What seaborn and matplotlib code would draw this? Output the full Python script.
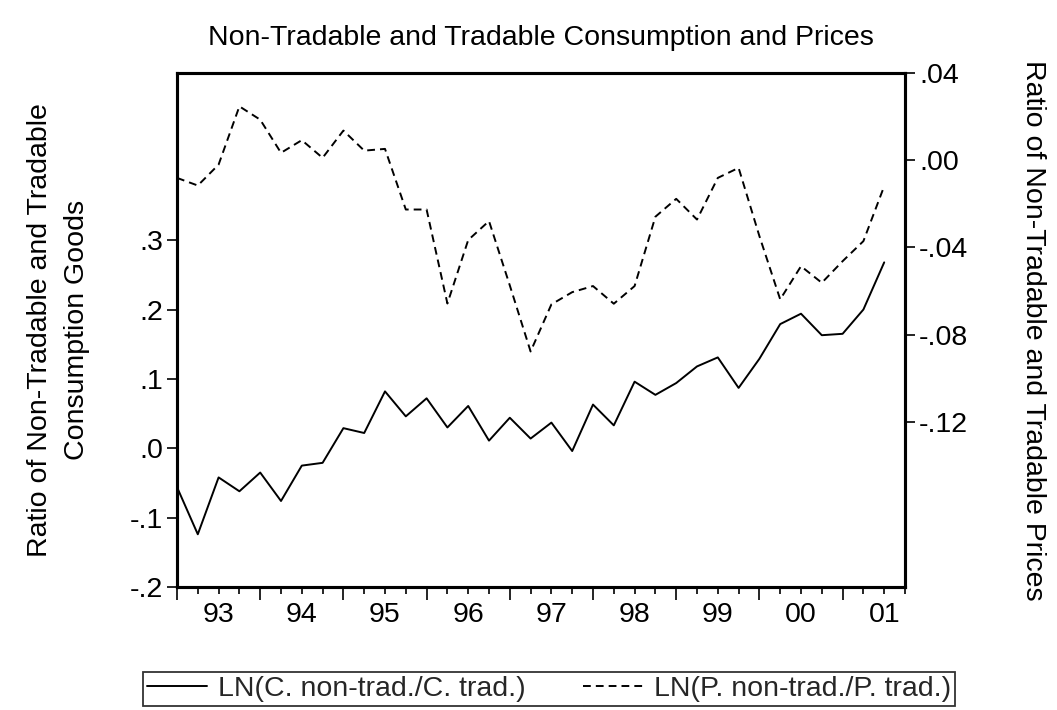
import matplotlib
matplotlib.use("Agg")
import matplotlib.pyplot as plt
import seaborn as sns
import pandas as pd
import numpy as np
from matplotlib.ticker import FixedLocator, FuncFormatter, MultipleLocator

# ---------------- data ----------------
year_labels = ["93", "94", "95", "96", "97", "98", "99", "00", "01"]
quarters = [f"{1993 + q // 4}Q{q % 4 + 1}" for q in range(35)]  # 1993Q1 .. 2001Q3

cons_ratio = [-0.056, -0.124, -0.042, -0.062, -0.035, -0.076, -0.025, -0.021,
              0.029, 0.022, 0.082, 0.046, 0.072, 0.030, 0.061, 0.011,
              0.044, 0.014, 0.037, -0.004, 0.063, 0.033, 0.096, 0.077,
              0.094, 0.118, 0.131, 0.087, 0.129, 0.179, 0.194, 0.163,
              0.165, 0.200, 0.268]

price_ratio = [-0.0081, -0.0116, -0.0020, 0.0247, 0.0186, 0.0034, 0.0092, 0.0011,
               0.0136, 0.0044, 0.0052, -0.0226, -0.0226, -0.0657, -0.0366, -0.0279,
               -0.0574, -0.0877, -0.0661, -0.0605, -0.0577, -0.0658, -0.0577, -0.0259,
               -0.0177, -0.0272, -0.0081, -0.0035, -0.0348, -0.0638, -0.0486, -0.0562,
               -0.0463, -0.0371, -0.0119]

left_ticks = [-0.2, -0.1, 0.0, 0.1, 0.2, 0.3]
left_tick_labels = ["-.2", "-.1", ".0", ".1", ".2", ".3"]
right_ticks = [0.04, 0.00, -0.04, -0.08, -0.12]
right_tick_labels = [".04", ".00", "-.04", "-.08", "-.12"]

title = "Non-Tradable and Tradable Consumption and Prices"
left_label = "Ratio of Non-Tradable and Tradable\nConsumption Goods"
right_label = "Ratio of Non-Tradable and Tradable Prices"
legend_labels = ["LN(C. non-trad./C. trad.)", "LN(P. non-trad./P. trad.)"]

# ---------------- style ----------------
sns.set_theme(style="white")
plt.rcParams["font.family"] = ["Liberation Sans", "DejaVu Sans"]
FS = 20.5
plt.rcParams["font.size"] = FS

df = pd.DataFrame({"q": np.arange(len(quarters)), "quarter": quarters,
                   "cons": cons_ratio, "price": price_ratio})

W, H = 1057, 710
fig = plt.figure(figsize=(W / 100, H / 100), dpi=100)
ax = fig.add_axes([177 / W, 1 - 587 / H, (905 - 177) / W, (587 - 73) / H])
ax2 = ax.twinx()

sns.lineplot(data=df, x="q", y="cons", ax=ax, color="black", linewidth=1.4,
             label=legend_labels[0], legend=False)
sns.lineplot(data=df, x="q", y="price", ax=ax2, color="black", linewidth=1.4,
             linestyle=(0, (4.0, 2.6)), label=legend_labels[1], legend=False)

n_slots = len(quarters) + 1
ax.set_xlim(0, n_slots - 1)
ax.set_ylim(-0.2, 0.541)
ax2.set_ylim(-0.1957, 0.04)

# x ticks: long at year starts, short at every quarter, labels in mid-year
ax.xaxis.set_major_locator(FixedLocator(np.arange(0, n_slots, 4)))
ax.xaxis.set_major_formatter(FuncFormatter(lambda v, p: ""))
ax.xaxis.set_minor_locator(MultipleLocator(1))


def yr_fmt(v, p):
    i = int(round(v))
    if i % 4 == 2 and 0 <= (i - 2) // 4 < len(year_labels):
        return year_labels[(i - 2) // 4]
    return ""


ax.xaxis.set_minor_formatter(FuncFormatter(yr_fmt))
ax.tick_params(axis="x", which="major", direction="out", length=9, width=1.2,
               bottom=True, color="black")
ax.tick_params(axis="x", which="minor", direction="out", length=5, width=1.2,
               bottom=True, color="black", labelsize=FS, pad=6, labelcolor="black")

ax.set_yticks(left_ticks)
ax.set_yticklabels(left_tick_labels)
ax.tick_params(axis="y", direction="out", length=7, width=1.2, left=True,
               color="black", labelsize=FS, pad=3, labelcolor="black")
ax2.set_yticks(right_ticks)
ax2.set_yticklabels(right_tick_labels)
ax2.tick_params(axis="y", direction="out", length=7, width=1.2, right=True,
                color="black", labelsize=FS, pad=3, labelcolor="black")

for a in (ax, ax2):
    a.set_xlabel("")
    a.set_ylabel("")
    for s in a.spines.values():
        s.set_visible(True)
        s.set_color("black")
        s.set_linewidth(2.2)
ax.grid(False)
ax2.grid(False)

fig.text((177 + 905) / 2 / W, 1 - 38 / H, title, ha="center", va="center",
         fontsize=FS, color="black")
fig.text(59 / W, 1 - 330 / H, left_label, ha="center", va="center", rotation=90,
         fontsize=FS, color="black", linespacing=1.55)
fig.text(1033 / W, 1 - 330 / H, right_label, ha="center", va="center", rotation=270,
         fontsize=FS, color="black")

h1, _ = ax.get_legend_handles_labels()
h2, _ = ax2.get_legend_handles_labels()
leg = fig.legend(h1 + h2, legend_labels, loc="center", ncol=2,
                 bbox_to_anchor=(549 / W, 1 - 689 / H), frameon=True,
                 fancybox=False, edgecolor="black", fontsize=FS,
                 handlelength=2.1, handletextpad=0.4, columnspacing=2.0,
                 borderpad=0.15, borderaxespad=0)
leg.get_frame().set_linewidth(1.3)

fig.savefig("out.png", dpi=100, facecolor="white")
